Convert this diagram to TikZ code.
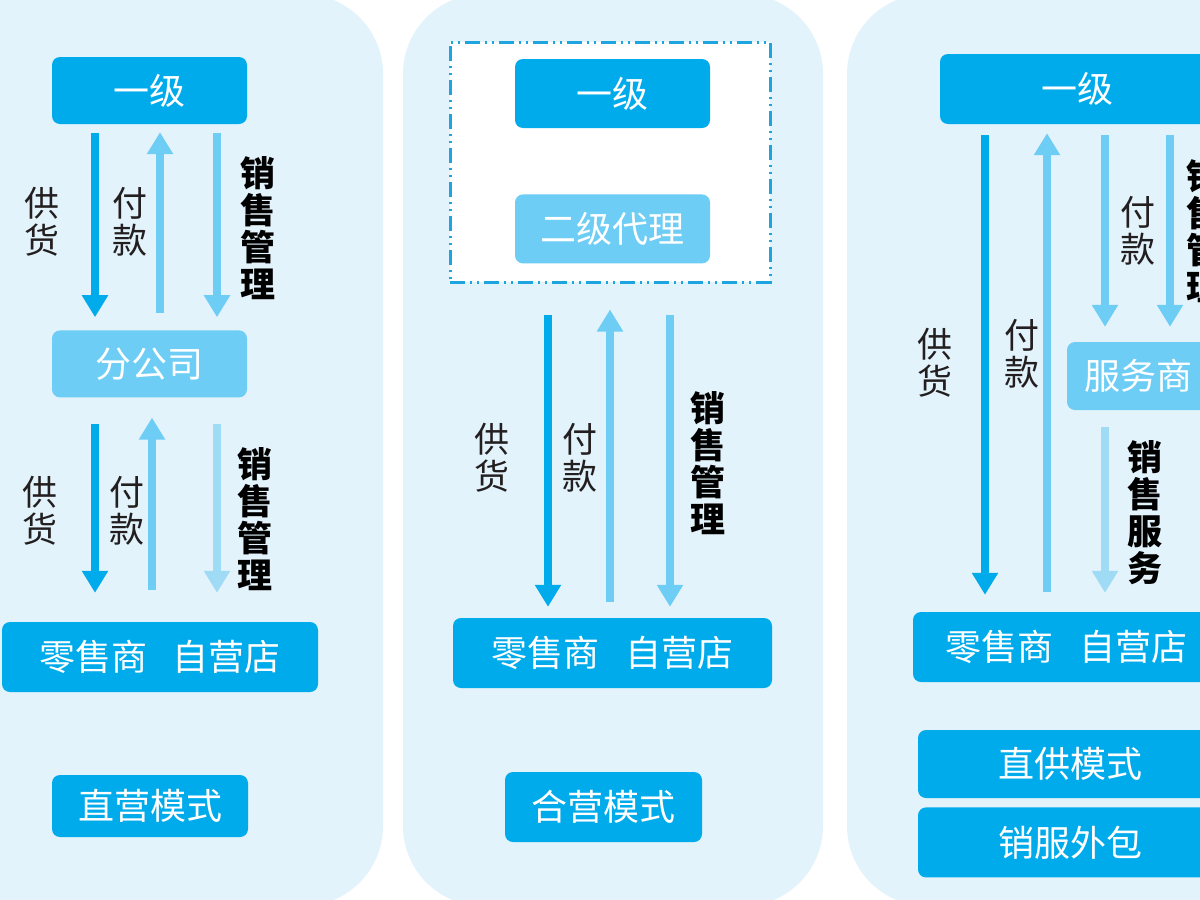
\documentclass[tikz,border=0pt]{standalone}
\usepackage{fontspec}
\setmainfont{Noto Sans CJK SC}
\usetikzlibrary{arrows.meta,positioning}
\definecolor{deep}{HTML}{00ABEB}
\definecolor{pale}{HTML}{6DCDF5}
\definecolor{paler}{HTML}{A0DBF6}
\definecolor{panelbg}{HTML}{E3F3FB}
\definecolor{dashc}{HTML}{1EA5DF}
\definecolor{ink}{HTML}{231F20}
\begin{document}
\begin{tikzpicture}[
  x=1pt, y=-1pt,
  panel/.style={fill=panelbg, rounded corners=80pt},
  box/.style={rectangle, rounded corners=8pt, fill=deep, text=white, font=\fontsize{36}{40}\selectfont, inner sep=0pt},
  subbox/.style={box, fill=pale},
  group/.style={rectangle, draw=dashc, fill=white, line width=3pt, dash pattern=on 15pt off 5pt on 2pt off 5pt on 2pt off 5pt, inner sep=0pt},
  lbl/.style={font=\fontsize{35}{37}\selectfont, text=ink, align=center, inner sep=0pt},
  lblb/.style={lbl, font=\fontsize{35}{37}\selectfont\bfseries, text=black},
  supply/.style={line width=8.5pt, draw=deep, -{Triangle[width=25pt,length=22pt]}},
  pay/.style={supply, draw=pale},
  soft/.style={supply, draw=paler}
]
\useasboundingbox (0,0) rectangle (1200,900);
\clip (0,0) rectangle (1200,900);
\fill[white] (0,0) rectangle (1200,900);
\fill[panel] (-100,-6) rectangle (383,906);
\fill[panel] (403,-6) rectangle (823,906);
\fill[panel] (847,-6) rectangle (1300,906);

% direct mode
\node[box, minimum width=195pt, minimum height=67pt] (top1) at (149.5,90.5) {一级};
\node[subbox, minimum width=195pt, minimum height=67pt, below=206pt of top1] (fen) {分公司};
\node[box, minimum width=316pt, minimum height=70pt] (ret1) at (160,657) {零售商\hspace{26pt}自营店};
\node[box, minimum width=196pt, minimum height=62pt] (mode1) at (150,806) {直营模式};

\draw[supply, shorten <=9pt, shorten >=13pt] ([xshift=-54.5pt]top1.south) -- ([xshift=-54.5pt]fen.north);
\draw[pay, shorten <=17pt, shorten >=8pt] ([xshift=10.5pt]fen.north) -- ([xshift=10.5pt]top1.south);
\draw[pay, shorten <=9pt, shorten >=13pt] ([xshift=67.5pt]top1.south) -- ([xshift=67.5pt]fen.north);
\draw[supply, shorten <=26pt, shorten >=29pt] ([xshift=-54.5pt]fen.south) -- ([xshift=-54.5pt]fen.south |- ret1.north);
\draw[pay, shorten <=32pt, shorten >=20pt] ([xshift=2.5pt]fen.south |- ret1.north) -- ([xshift=2.5pt]fen.south);
\draw[soft, shorten <=26pt, shorten >=29pt] ([xshift=67.5pt]fen.south) -- ([xshift=67.5pt]fen.south |- ret1.north);

\node[lbl] (s1a) at (42,222) {供\\货};
\node[lbl] (p1a) at (130,222) {付\\款};
\node[lblb] (m1a) at (258,228) {销\\售\\管\\理};
\node[lbl] (s1b) at (40,511) {供\\货};
\node[lbl] (p1b) at (127,511) {付\\款};
\node[lblb] (m1b) at (255,519) {销\\售\\管\\理};

% joint mode
\node[group, minimum width=320pt, minimum height=240pt] (grp) at (610,162) {};
\node[box, minimum width=195pt, minimum height=69pt] (top2) at (612.5,93.5) {一级};
\node[subbox, minimum width=195pt, minimum height=69pt, below=66pt of top2] (sec2) {二级代理};
\node[box, minimum width=319pt, minimum height=70pt] (ret2) at (612.5,653) {零售商\hspace{26pt}自营店};
\node[box, minimum width=197pt, minimum height=70pt] (mode2) at (603.5,807) {合营模式};

\draw[supply, shorten <=31pt, shorten >=11pt] ([xshift=-62pt]grp.south) -- ([xshift=-62pt]grp.south |- ret2.north);
\draw[pay, shorten <=16pt, shorten >=26pt] (grp.south |- ret2.north) -- (grp.south);
\draw[pay, shorten <=31pt, shorten >=11pt] ([xshift=60pt]grp.south) -- ([xshift=60pt]grp.south |- ret2.north);

\node[lbl] (s2) at (492,458) {供\\货};
\node[lbl] (p2) at (580,458) {付\\款};
\node[lblb] (m2) at (708,463) {销\\售\\管\\理};

% supply and outsourcing mode
\node[box, minimum width=275pt, minimum height=70pt] (top3) at (1077.5,89) {一级};
\node[subbox, minimum width=143pt, minimum height=68pt] (svc) at (1138.5,376) {服务商};
\node[box, minimum width=306pt, minimum height=70pt] (ret3) at (1066,647) {零售商\hspace{26pt}自营店};
\node[box, minimum width=304pt, minimum height=68pt] (mode3a) at (1070,764) {直供模式};
\node[box, minimum width=304pt, minimum height=70pt, below=9pt of mode3a] (mode3b) {销服外包};

\draw[supply, shorten <=11pt, shorten >=17pt] ([xshift=-92.5pt]top3.south) -- ([xshift=-92.5pt]top3.south |- ret3.north);
\draw[pay, shorten <=20pt, shorten >=9pt] ([xshift=-30.5pt]top3.south |- ret3.north) -- ([xshift=-30.5pt]top3.south);
\draw[pay, shorten <=11pt, shorten >=15pt] ([xshift=27.5pt]top3.south) -- ([xshift=27.5pt]top3.south |- svc.north);
\draw[pay, shorten <=11pt, shorten >=15pt] ([xshift=92.5pt]top3.south) -- ([xshift=92.5pt]top3.south |- svc.north);
\draw[soft, shorten <=17pt, shorten >=19pt] ([xshift=-33.5pt]svc.south) -- ([xshift=-33.5pt]svc.south |- ret3.north);

\node[lbl] (s3) at (935,363) {供\\货};
\node[lbl] (p3a) at (1022,354) {付\\款};
\node[lbl] (p3b) at (1138,231) {付\\款};
\node[lblb] (m3) at (1204,231) {销\\售\\管\\理};
\node[lblb] (v3) at (1145,513) {销\\售\\服\\务};
\end{tikzpicture}
\end{document}
